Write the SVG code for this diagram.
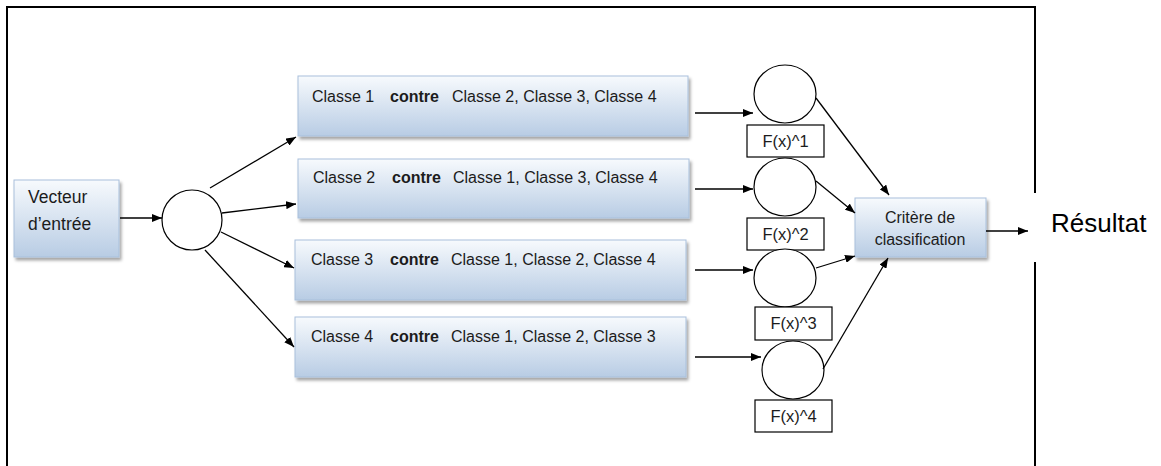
<svg xmlns="http://www.w3.org/2000/svg" width="1161" height="466" viewBox="0 0 1161 466">
<defs>
<linearGradient id="g" x1="0" y1="0" x2="0" y2="1">
<stop offset="0" stop-color="#f7fafd"/>
<stop offset="1" stop-color="#b8cce4"/>
</linearGradient>
<marker id="ah" markerWidth="10" markerHeight="8" refX="10" refY="4" orient="auto" markerUnits="userSpaceOnUse">
<path d="M0,0 L10,4 L0,8 z" fill="#000"/>
</marker>
<filter id="sh" x="-5%" y="-5%" width="115%" height="125%">
<feDropShadow dx="2" dy="3" stdDeviation="1.5" flood-color="#000" flood-opacity="0.35"/>
</filter>
</defs>
<style>
.box{fill:url(#g);stroke:#a9c0dc;stroke-width:1;filter:url(#sh)}
.t{font-family:"Liberation Sans",Arial,sans-serif;font-size:16px;fill:#1c1c1c}
.tv{font-size:17.5px}
.b{font-weight:bold}
.c{fill:#fff;stroke:#000;stroke-width:1.2}
.lb{fill:#fff;stroke:#000;stroke-width:1.2}
.fl{font-family:"Liberation Sans",Arial,sans-serif;font-size:16.5px;fill:#1c1c1c;text-anchor:middle}
.e{stroke:#000;stroke-width:1.3;fill:none;marker-end:url(#ah)}
.fr{stroke:#000;stroke-width:2;fill:none}
</style>
<rect width="1161" height="466" fill="#fff"/>
<g id="frame">
<path class="fr" d="M7,466 V7 H1035 V193"/>
<path class="fr" d="M1035,262 V466"/>
</g>
<g id="vecteur">
<rect class="box" x="14" y="180" width="105" height="77"/>
<text class="t tv" x="28" y="203">Vecteur</text>
<text class="t tv" x="28" y="230">d’entrée</text>
</g>
<g id="split">
<circle class="c" cx="192" cy="220" r="30"/>
</g>
<g id="c1">
<rect class="box" x="298" y="76" width="390" height="60"/>
<text class="t" x="312" y="102">Classe 1</text>
<text class="t b" x="390" y="102">contre</text>
<text class="t" x="452" y="102">Classe 2, Classe 3, Classe 4</text>
</g>
<g id="c2">
<rect class="box" x="298" y="159" width="391" height="59"/>
<text class="t" x="313" y="183">Classe 2</text>
<text class="t b" x="392" y="183">contre</text>
<text class="t" x="453" y="183">Classe 1, Classe 3, Classe 4</text>
</g>
<g id="c3">
<rect class="box" x="295" y="240" width="391" height="60"/>
<text class="t" x="311" y="265">Classe 3</text>
<text class="t b" x="390" y="265">contre</text>
<text class="t" x="451" y="265">Classe 1, Classe 2, Classe 4</text>
</g>
<g id="c4">
<rect class="box" x="295" y="317" width="391" height="60"/>
<text class="t" x="311" y="342">Classe 4</text>
<text class="t b" x="390" y="342">contre</text>
<text class="t" x="451" y="342">Classe 1, Classe 2, Classe 3</text>
</g>
<g id="f1">
<ellipse class="c" cx="785" cy="94" rx="31" ry="29"/>
<rect class="lb" x="747" y="125" width="77" height="32"/>
<text class="fl" x="785.5" y="147">F(x)^1</text>
</g>
<g id="f2">
<ellipse class="c" cx="785" cy="187" rx="31" ry="29"/>
<rect class="lb" x="747" y="218" width="77" height="32"/>
<text class="fl" x="785.5" y="240">F(x)^2</text>
</g>
<g id="f3">
<ellipse class="c" cx="785" cy="278" rx="31" ry="29"/>
<rect class="lb" x="755" y="307" width="77" height="33"/>
<text class="fl" x="793.5" y="329">F(x)^3</text>
</g>
<g id="f4">
<ellipse class="c" cx="793" cy="370" rx="31" ry="29"/>
<rect class="lb" x="755" y="400" width="77" height="32"/>
<text class="fl" x="793.5" y="422">F(x)^4</text>
</g>
<g id="critere">
<rect class="box" x="855" y="198" width="131" height="59"/>
<text class="t" x="920" y="223" text-anchor="middle">Critère de</text>
<text class="t" x="920" y="245" text-anchor="middle">classification</text>
</g>
<g id="resultat">
<text x="1051" y="232" font-family="Liberation Sans, Arial, sans-serif" font-size="26" fill="#000">Résultat</text>
</g>
<g id="connectors">
<line class="e" x1="120" y1="218" x2="162" y2="218"/>
<line class="e" x1="210" y1="188" x2="296" y2="137"/>
<line class="e" x1="222" y1="213" x2="296" y2="204"/>
<line class="e" x1="221" y1="232" x2="294" y2="268"/>
<line class="e" x1="205" y1="250" x2="294" y2="347"/>
<line class="e" x1="695" y1="113" x2="753" y2="113"/>
<line class="e" x1="695" y1="189" x2="753" y2="189"/>
<line class="e" x1="695" y1="270" x2="753" y2="270"/>
<line class="e" x1="695" y1="357" x2="761" y2="357"/>
<line class="e" x1="816" y1="98" x2="889" y2="195"/>
<line class="e" x1="816" y1="181" x2="855" y2="213"/>
<line class="e" x1="816" y1="268" x2="855" y2="256"/>
<line class="e" x1="823" y1="369" x2="888" y2="258"/>
<line class="e" x1="986" y1="231" x2="1028" y2="231"/>
</g>
</svg>
